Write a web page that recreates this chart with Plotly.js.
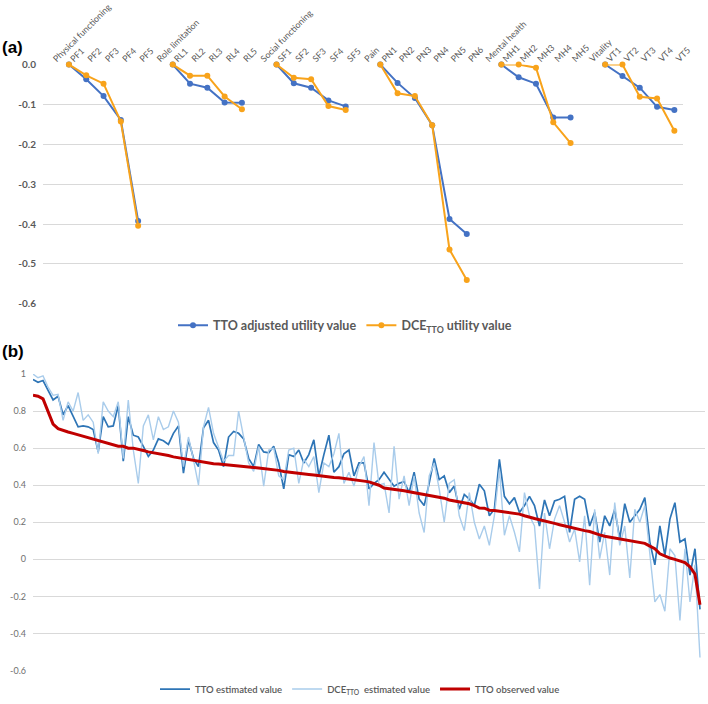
<!DOCTYPE html>
<html>
<head>
<meta charset="utf-8">
<script src="https://cdn.plot.ly/plotly-3.0.1.min.js"></script>
<style>html,body{margin:0;padding:0;background:#fff;}#chart{width:708px;height:704px;}</style>
</head>
<body>
<div id="chart"></div>
<script>
// ---------- Panel (a) data ----------
const topCategories = [
  "Physical functioning","PF1","PF2","PF3","PF4","PF5",
  "Role limitation","RL1","RL2","RL3","RL4","RL5",
  "Social functioning","SF1","SF2","SF3","SF4","SF5",
  "Pain","PN1","PN2","PN3","PN4","PN5","PN6",
  "Mental health","MH1","MH2","MH3","MH4","MH5",
  "Vitality","VT1","VT2","VT3","VT4","VT5"
];
const ttoAdjusted = [
  null,0,-0.037,-0.079,-0.139,-0.392,
  null,0,-0.048,-0.058,-0.095,-0.096,
  null,0,-0.047,-0.058,-0.090,-0.105,
  null,0,-0.046,-0.084,-0.152,-0.387,-0.425,
  null,0,-0.032,-0.048,-0.133,-0.133,
  null,0,-0.029,-0.058,-0.106,-0.114
];
const dceUtility = [
  null,0,-0.027,-0.048,-0.143,-0.404,
  null,0,-0.028,-0.028,-0.080,-0.112,
  null,0,-0.033,-0.037,-0.104,-0.114,
  null,0,-0.072,-0.079,-0.152,-0.464,-0.540,
  null,0,0,-0.008,-0.145,-0.197,
  null,0,0,-0.081,-0.085,-0.166
];
const topTickVals = [0,-0.1,-0.2,-0.3,-0.4,-0.5,-0.6];
const topTickText = ["0.0","-0.1","-0.2","-0.3","-0.4","-0.5","-0.6"];

// ---------- Panel (b) data ----------
const ttoEstimated = [
  0.97,0.955,0.965,0.91,0.86,0.88,0.78,0.83,0.77,0.715,
  0.72,0.715,0.70,0.58,0.77,0.715,0.72,0.83,0.53,0.77,
  0.67,0.66,0.61,0.555,0.59,0.65,0.64,0.62,0.68,0.72,
  0.465,0.645,0.545,0.50,0.71,0.75,0.63,0.59,0.50,0.66,
  0.69,0.68,0.65,0.545,0.50,0.62,
  0.58,0.575,0.61,0.52,0.38,0.565,0.555,0.59,0.52,0.565,
  0.645,0.45,0.565,0.67,0.47,0.50,0.57,0.59,0.45,0.52,
  0.52,0.38,0.41,0.43,0.47,0.43,0.395,0.41,0.42,0.36,
  0.47,0.325,0.29,0.41,0.545,0.43,0.45,0.36,0.395,0.27,
  0.35,0.325,0.29,0.405,
  0.37,0.235,0.27,0.54,0.34,0.30,0.333,0.253,0.29,0.34,
  0.29,0.18,0.32,0.235,0.315,0.324,0.34,0.146,0.324,0.34,
  0.324,0.18,0.253,0.093,0.235,0.18,0.27,0.11,0.30,0.20,
  0.235,0.27,0.333,0.093,-0.03,0.18,0.02,0.217,0.306,0.093,
  0.11,-0.085,0.057,-0.27
];
const dceEstimated = [
  1.0,0.98,0.99,0.93,0.885,0.89,0.75,0.85,0.80,0.90,
  0.75,0.78,0.74,0.57,0.85,0.80,0.77,0.85,0.545,0.86,
  0.59,0.41,0.72,0.78,0.645,0.77,0.70,0.715,0.80,0.74,
  0.50,0.66,0.537,0.40,0.715,0.82,0.68,0.61,0.53,0.56,
  0.56,0.80,0.66,0.52,0.475,0.61,
  0.395,0.59,0.60,0.45,0.43,0.59,0.60,0.41,0.54,0.50,
  0.555,0.36,0.52,0.50,0.57,0.68,0.41,0.47,0.395,0.50,
  0.555,0.29,0.63,0.40,0.41,0.25,0.61,0.325,0.45,0.29,
  0.45,0.25,0.145,0.45,0.52,0.38,0.20,0.41,0.43,0.235,
  0.155,0.36,0.20,0.11,
  0.18,0.075,0.235,0.485,0.13,0.235,0.146,0.04,0.36,0.235,
  0.18,-0.16,0.25,0.057,0.217,0.29,0.20,0.093,0.164,-0.014,
  0.235,-0.14,0.27,0.004,0.146,-0.085,0.306,0.075,0.18,-0.10,
  0.27,0.20,0.29,0.02,-0.23,-0.19,-0.28,0.057,0.02,-0.33,
  0.057,-0.23,-0.03,-0.53
];
const ttoObserved = [
  0.885,0.88,0.866,0.80,0.73,0.705,0.695,0.687,0.68,0.672,
  0.665,0.66,0.65,0.64,0.633,0.626,0.62,0.61,0.61,0.60,
  0.60,0.595,0.587,0.58,0.576,0.57,0.564,0.56,0.553,0.548,
  0.544,0.54,0.534,0.53,0.525,0.52,0.516,0.514,0.512,0.51,
  0.507,0.505,0.503,0.50,0.496,0.493,
  0.49,0.488,0.485,0.48,0.474,0.47,0.468,0.465,0.462,0.458,
  0.455,0.451,0.448,0.445,0.442,0.44,0.437,0.433,0.43,0.426,
  0.422,0.418,0.41,0.40,0.385,0.382,0.378,0.375,0.37,0.365,
  0.36,0.355,0.352,0.347,0.34,0.335,0.33,0.32,0.315,0.31,
  0.305,0.30,0.29,0.277,
  0.276,0.265,0.264,0.26,0.256,0.253,0.25,0.244,0.235,0.226,
  0.22,0.214,0.206,0.20,0.194,0.187,0.18,0.175,0.167,0.162,
  0.155,0.15,0.14,0.132,0.125,0.12,0.114,0.109,0.105,0.10,
  0.094,0.09,0.086,0.071,0.057,0.03,0.018,0.007,0.0,-0.009,
  -0.018,-0.04,-0.08,-0.245
];
const respondentRank = ttoObserved.map((_, i) => i);
const bottomTickVals = [1,0.8,0.6,0.4,0.2,0,-0.2,-0.4,-0.6];
const bottomTickText = ["1","0.8","0.6","0.4","0.2","0","-0.2","-0.4","-0.6"];

// ---------- Figure ----------
const grey = '#595959';
const W = 708, H = 704;
const px = v => v / W, py = v => 1 - v / H;

const traces = [
  {x: topCategories, y: ttoAdjusted, xaxis: 'x', yaxis: 'y', mode: 'lines+markers',
   name: 'TTO adjusted utility value', line: {color: '#4472C4', width: 2},
   marker: {color: '#4472C4', size: 6}, cliponaxis: false, connectgaps: false, legend: 'legend'},
  {x: topCategories, y: dceUtility, xaxis: 'x', yaxis: 'y', mode: 'lines+markers',
   name: 'DCE<sub>TTO</sub> utility value', line: {color: '#F8A31B', width: 2},
   marker: {color: '#F8A31B', size: 6}, cliponaxis: false, connectgaps: false, legend: 'legend'},
  {x: respondentRank, y: ttoEstimated, xaxis: 'x2', yaxis: 'y2', mode: 'lines',
   name: 'TTO estimated value', line: {color: '#2E75B6', width: 1.7}, legend: 'legend2'},
  {x: respondentRank, y: dceEstimated, xaxis: 'x2', yaxis: 'y2', mode: 'lines',
   name: 'DCE<sub>TTO</sub>  estimated value', line: {color: '#A9CCEB', width: 1.4}, legend: 'legend2'},
  {x: respondentRank, y: ttoObserved, xaxis: 'x2', yaxis: 'y2', mode: 'lines',
   name: 'TTO observed value', line: {color: '#C00000', width: 3}, legend: 'legend2'}
];

const layout = {
  width: W, height: H,
  margin: {l: 0, r: 0, t: 0, b: 0},
  paper_bgcolor: '#fff', plot_bgcolor: '#fff',
  font: {family: 'Lato, "Open Sans", sans-serif', color: grey},
  xaxis: {
    domain: [px(43), px(683)], anchor: 'y', type: 'category', side: 'top',
    range: [-0.5, 36.5], tickangle: -45, showgrid: false, zeroline: false,
    showline: false, ticks: '', tickfont: {size: 8.8, color: grey}, automargin: false,
    ticklabelstandoff: -2, ticklabelshift: 2, fixedrange: true
  },
  yaxis: {
    domain: [py(306), py(65)], anchor: 'x', range: [-0.6, 0],
    tickvals: topTickVals, ticktext: topTickText, showgrid: true, gridcolor: '#D9D9D9',
    gridwidth: 1, zeroline: false, showline: false, ticks: '',
    tickfont: {size: 10, color: grey, weight: 700}, ticklabelstandoff: 6, automargin: false
  },
  xaxis2: {
    domain: [px(33), px(705)], anchor: 'y2', range: [0, 134],
    showgrid: false, zeroline: false, showline: false, showticklabels: false, ticks: '',
    automargin: false
  },
  yaxis2: {
    domain: [py(675.3), py(376.7)], anchor: 'x2', range: [-0.6, 1.0],
    tickvals: bottomTickVals, ticktext: bottomTickText, showgrid: true, gridcolor: '#D9D9D9',
    gridwidth: 1, zeroline: false, showline: false, ticks: '',
    tickfont: {size: 9, color: '#6f6f6f'}, ticklabelstandoff: 6, automargin: false
  },
  legend: {
    orientation: 'h', x: px(345), xanchor: 'center', y: py(328), yanchor: 'middle',
    font: {size: 12.5, color: grey, weight: 700}, itemwidth: 30, tracegroupgap: 0,
    bgcolor: 'rgba(0,0,0,0)'
  },
  legend2: {
    orientation: 'h', x: px(360), xanchor: 'center', y: py(694), yanchor: 'middle',
    font: {size: 9.5, color: grey, weight: 600}, itemwidth: 30,
    bgcolor: 'rgba(0,0,0,0)'
  },
  showlegend: true,
  annotations: [
    {text: '(a)', xref: 'paper', yref: 'paper', x: 0, y: py(48), xanchor: 'left', yanchor: 'middle',
     showarrow: false, font: {family: '"Liberation Sans", Arial, sans-serif', size: 17, color: '#000', weight: 700}},
    {text: '(b)', xref: 'paper', yref: 'paper', x: 0, y: py(354), xanchor: 'left', yanchor: 'middle',
     showarrow: false, font: {family: '"Liberation Sans", Arial, sans-serif', size: 17, color: '#000', weight: 700}}
  ]
};

Plotly.newPlot('chart', traces, layout, {displayModeBar: false, staticPlot: true});
</script>
</body>
</html>
